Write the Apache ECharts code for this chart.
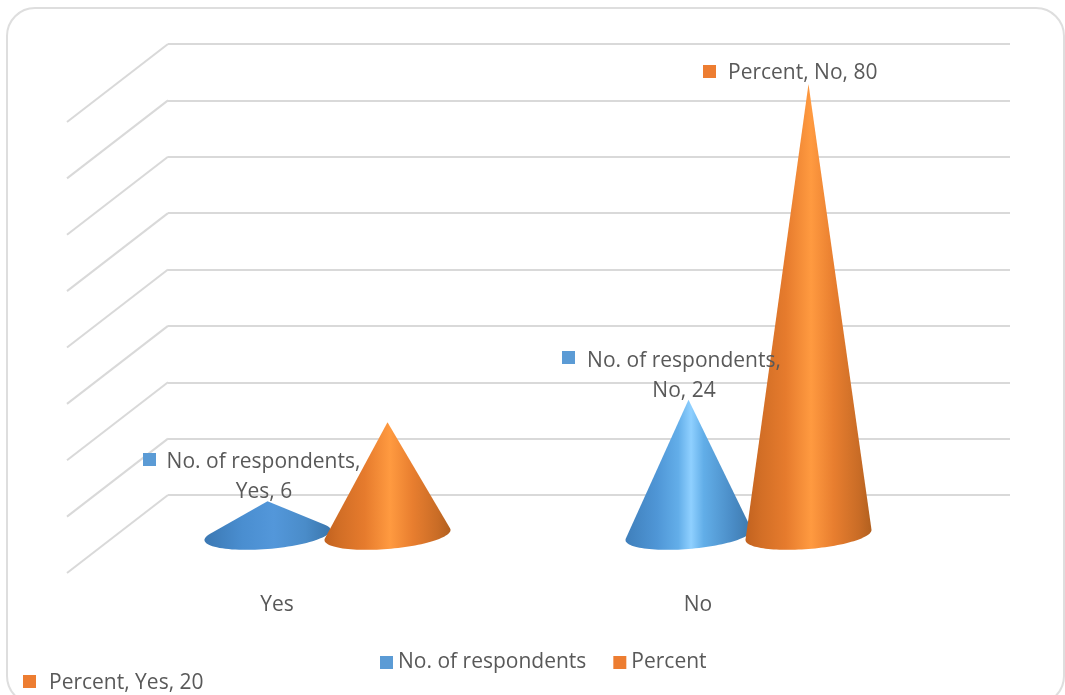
<!DOCTYPE html>
<html>
<head>
<meta charset="utf-8">
<style>html,body{margin:0;padding:0;background:#fff}#chart{width:1065px;height:695px}</style>
<script src="https://cdn.jsdelivr.net/npm/echarts@6/dist/echarts.min.js"></script>
</head>
<body>
<div id="chart"></div>
<script>
// Survey answers by category
const categories = ['Yes', 'No'];
const respondents = [6, 24];
const percent = [20, 80];
const gridValues = [0, 10, 20, 30, 40, 50, 60, 70, 80];

const seriesNames = ['No. of respondents', 'Percent'];
const seriesColors = ['#5b9bd5', '#ed7d31'];

// Pseudo-3D floor: the plot floor runs from the back wall toward the viewer
const DEPTH_X = -101, DEPTH_Y = 78;
const MID_X = -51, MID_Y = 40;
const CONE_RX = 63, CONE_RY = 14, CONE_TILT = 5, CONE_SHIFT = 60;

const TEXT = '#595959';
const FONT_SIZE = 21;
const FONT_FAMILY = '"Open Sans", sans-serif';
const FONT = FONT_SIZE + 'px ' + FONT_FAMILY;

function stops(list) {
  return new echarts.graphic.LinearGradient(0, 0, 1, 0,
    list.map(function (s) { return { offset: s[0], color: s[1] }; }));
}
// Shading across the cone; squat cones catch far less highlight
function coneFill(seriesIndex, tall) {
  if (seriesIndex === 0) {
    return tall
      ? stops([[0, '#3f7fbb'], [0.25, '#4f96d6'], [0.42, '#63aee9'], [0.52, '#8fd0ff'], [0.62, '#62aee8'], [0.85, '#4a8cc6'], [1, '#3d78ac']])
      : stops([[0, '#3b78b3'], [0.3, '#4a8ed0'], [0.55, '#5397da'], [0.8, '#4a8cc9'], [1, '#3a76ad']]);
  }
  return stops([[0, '#c2621f'], [0.12, '#d26e26'], [0.32, '#e67b2d'], [0.52, '#ff9a40'], [0.7, '#e87e2f'], [0.9, '#c96c26'], [1, '#b2601f']]);
}

function coneItem(seriesIndex) {
  return function (params, api) {
    const i = api.value(0), v = api.value(1);
    const base = api.coord([i, 0]);
    const top = api.coord([i, v]);
    const side = seriesIndex === 0 ? -CONE_SHIFT : CONE_SHIFT;
    const cx = base[0] + MID_X + side, cy = base[1] + MID_Y;
    const apex = [cx, top[1] + MID_Y];
    // the sides meet the base rim where they are tangent to it
    const wrap = Math.asin(Math.min(1, CONE_RY / (cy - apex[1])));
    const pts = [apex];
    // visible rim of the slightly tilted base ellipse, right end to left end
    for (let k = 0; k <= 60; k++) {
      const t = -wrap + (Math.PI + 2 * wrap) * k / 60;
      pts.push([cx + CONE_RX * Math.cos(t), cy + CONE_RY * Math.sin(t) - CONE_TILT * Math.cos(t)]);
    }
    return {
      type: 'polygon',
      shape: { points: pts },
      style: { fill: coneFill(seriesIndex, cy - apex[1] > 60), stroke: null }
    };
  };
}

// Text placement of each data label
const labelBoxes = {
  '0-0': { square: [143, 453], lines: [[263.5, 462], [264, 492]] },
  '0-1': { square: [562, 351], lines: [[684, 361], [684, 391]] },
  '1-0': { square: [23, 675], lines: [[49, 683]], left: true },
  '1-1': { square: [703, 65], lines: [[728, 73]], left: true }
};

function labelItem(seriesIndex, values) {
  return function (params, api) {
    const i = api.value(0);
    const box = labelBoxes[seriesIndex + '-' + i];
    const head = seriesNames[seriesIndex];
    const tail = categories[i] + ', ' + values[i];
    const texts = box.lines.length === 2 ? [head + ',', tail] : [head + ', ' + tail];
    const children = [{
      type: 'rect',
      shape: { x: box.square[0], y: box.square[1], width: 13, height: 13 },
      style: { fill: seriesColors[seriesIndex] }
    }];
    texts.forEach(function (t, n) {
      children.push({
        type: 'text',
        style: {
          text: t, x: box.lines[n][0], y: box.lines[n][1],
          fill: TEXT, font: FONT,
          textAlign: box.left ? 'left' : 'center', textVerticalAlign: 'middle'
        }
      });
    });
    return { type: 'group', children: children };
  };
}

function wallItem(params, api) {
  const p = api.coord([0, api.value(0)]);
  const x0 = params.coordSys.x;
  return {
    type: 'line',
    shape: { x1: x0, y1: p[1], x2: x0 + DEPTH_X, y2: p[1] + DEPTH_Y },
    style: { stroke: '#d9d9d9', lineWidth: 2 }
  };
}

function pairs(values) { return values.map(function (v, i) { return [i, v]; }); }

const chart = echarts.init(document.getElementById('chart'), null, { renderer: 'canvas' });
chart.setOption({
  animation: false,
  backgroundColor: '#ffffff',
  graphic: [{
    type: 'rect', z: -10, silent: true,
    shape: { x: 7, y: 8, width: 1057, height: 696, r: 28 },
    style: { fill: '#ffffff', stroke: '#dedede', lineWidth: 2 }
  }],
  grid: { left: 168, top: 44, width: 842, height: 451 },
  legend: {
    data: seriesNames, left: 375, top: 647, icon: 'rect',
    itemWidth: 13, itemHeight: 13, itemGap: 27,
    textStyle: { color: TEXT, fontFamily: FONT_FAMILY, fontSize: FONT_SIZE }
  },
  xAxis: {
    type: 'category', data: categories,
    axisLine: { show: false }, axisTick: { show: false }, splitLine: { show: false },
    axisLabel: { margin: 100, padding: [0, 203, 0, 0], color: TEXT, fontFamily: FONT_FAMILY, fontSize: FONT_SIZE }
  },
  yAxis: {
    type: 'value', min: 0, max: 80, interval: 10,
    axisLine: { show: false }, axisTick: { show: false }, axisLabel: { show: false },
    splitLine: { show: true, lineStyle: { color: '#d9d9d9', width: 2 } }
  },
  series: [
    { type: 'custom', name: 'wall', silent: true, z: 1, data: gridValues.map(function (v) { return [v]; }),
      encode: { y: 0 }, renderItem: wallItem },
    { type: 'custom', name: seriesNames[0], z: 2, itemStyle: { color: seriesColors[0] },
      data: pairs(respondents), encode: { x: 0, y: 1 }, renderItem: coneItem(0) },
    { type: 'custom', name: seriesNames[1], z: 3, itemStyle: { color: seriesColors[1] },
      data: pairs(percent), encode: { x: 0, y: 1 }, renderItem: coneItem(1) },
    { type: 'custom', name: 'labels0', z: 4, silent: true,
      data: pairs(respondents), encode: { x: 0, y: 1 }, renderItem: labelItem(0, respondents) },
    { type: 'custom', name: 'labels1', z: 4, silent: true,
      data: pairs(percent), encode: { x: 0, y: 1 }, renderItem: labelItem(1, percent) }
  ]
});
</script>
</body>
</html>
